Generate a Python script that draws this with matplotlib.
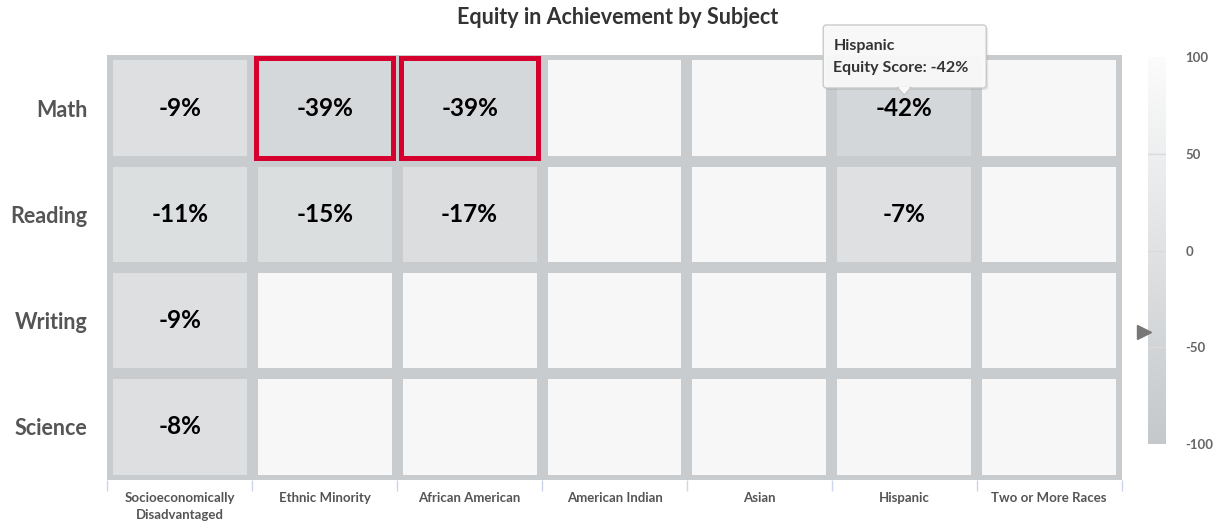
import numpy as np
import matplotlib.pyplot as plt
from matplotlib.patches import Rectangle, Polygon, FancyBboxPatch
from matplotlib.colors import LinearSegmentedColormap, Normalize
from matplotlib.cm import ScalarMappable

plt.rcParams['font.family'] = ['Lato', 'DejaVu Sans']
plt.rcParams['axes.unicode_minus'] = False

groups = ["Socioeconomically\nDisadvantaged", "Ethnic Minority", "African American",
          "American Indian", "Asian", "Hispanic", "Two or More Races"]
subjects = ["Math", "Reading", "Writing", "Science"]
# equity score in %, None = no data
math = [-9, -39, -39, None, None, -42, None]
reading = [-11, -15, -17, None, None, -7, None]
writing = [-9, None, None, None, None, None, None]
science = [-8, None, None, None, None, None, None]
scores = [math, reading, writing, science]

highlighted = [(0, 1), (0, 2)]   # (row, col) outlined in red
hover = (0, 5)                   # cell with the tooltip

cmap = LinearSegmentedColormap.from_list("eq", ["#c4c8cb", "#fbfbfb"])
norm = Normalize(-100, 100)
empty_color = "#f7f7f7"
gap_color = "#c8ccce"

fig = plt.figure(figsize=(12.19, 5.22), dpi=100)
ax = fig.add_axes([107 / 1219, 42 / 522, 1015 / 1219, 425 / 522])
ax.set_facecolor(gap_color)
ax.set_xlim(-0.503, 6.503)
ax.set_ylim(3.5, -0.5)

hw, hh = 0.462, 0.45
for r, row in enumerate(scores):
    for c, v in enumerate(row):
        fc = empty_color if v is None else cmap(norm(v))
        ax.add_patch(Rectangle((c - hw, r - hh), 2 * hw, 2 * hh, facecolor=fc,
                               edgecolor="none"))
        if v is not None:
            ax.text(c, r, f"{v}%", ha="center", va="center", fontsize=17.5,
                    fontweight="bold", color="black")

for r, c in highlighted:
    s = 0.472
    ax.add_patch(Rectangle((c - s, r - s), 2 * s, 2 * s, facecolor="none",
                           edgecolor="#d5002e", linewidth=3.6, zorder=5))

for sp in ax.spines.values():
    sp.set_visible(False)

ax.set_xticks(range(len(groups)))
ax.set_xticklabels(groups, fontsize=9.5, fontweight="bold", color="#555555",
                   linespacing=1.45, va="top")
ax.set_xticks(np.arange(-0.5, len(groups), 1), minor=True)
ax.tick_params(axis="x", which="major", length=0, pad=9)
ax.tick_params(axis="x", which="minor", length=8, color="#ccd6eb", width=1)
ax.set_yticks(range(len(subjects)))
ax.set_yticklabels(subjects, fontsize=15.5, fontweight="bold", color="#555555")
ax.tick_params(axis="y", length=0, pad=14)

fig.text(618 / 1219, 1 - 17 / 522, "Equity in Achievement by Subject",
         ha="center", va="center", fontsize=15.5, fontweight="bold", color="#333333")

# colour axis
cax = fig.add_axes([1148 / 1219, 78 / 522, 18 / 1219, 387 / 522])
cb = fig.colorbar(ScalarMappable(norm=norm, cmap=cmap), cax=cax)
cb.outline.set_visible(False)
cb.set_ticks([-100, -50, 0, 50, 100])
cax.tick_params(length=0, pad=14, labelsize=9.5, labelcolor="#666666")
for lab in cax.get_yticklabels():
    lab.set_fontweight("bold")
for t in [-50, 0, 50]:
    cax.axhline(t, color="#d8dadc", lw=1)
hv = scores[hover[0]][hover[1]]
cax.plot([-0.25], [hv], marker=">", markersize=10, color="#777777",
         clip_on=False, transform=cax.get_yaxis_transform())

# tooltip (pixel offsets from the hovered cell's top edge)
fig.canvas.draw()
cx, cy = ax.transData.transform((hover[1], hover[0] - 0.5))
bw, bh = 163, 63
px, py = cx - 81, cy - 33
shadow = FancyBboxPatch((px + 2, py - 2), bw, bh, boxstyle="round,pad=0,rounding_size=3",
                        transform=None, facecolor="#000000", alpha=0.08,
                        edgecolor="none", zorder=9)
box = FancyBboxPatch((px, py), bw, bh, boxstyle="round,pad=0,rounding_size=3",
                     transform=None, facecolor="#f9f9f9", alpha=0.96,
                     edgecolor="#c8c8c8", linewidth=1, zorder=10)
fig.patches.extend([shadow, box])
fig.patches.append(Polygon([(cx - 7, py + 0.5), (cx + 7, py + 0.5), (cx, py - 7)],
                           closed=True, transform=None, facecolor="#f9f9f9",
                           edgecolor="#c8c8c8", linewidth=1, zorder=10))
fig.patches.append(Polygon([(cx - 6, py + 1.5), (cx + 6, py + 1.5), (cx, py - 5.5)],
                           closed=True, transform=None, facecolor="#f9f9f9",
                           edgecolor="none", zorder=11))
fig.text((px + 10) / 1219, (py + 42) / 522, groups[hover[1]], fontsize=11.5,
         fontweight="bold", color="#333333", va="center", zorder=12)
fig.text((px + 10) / 1219, (py + 20) / 522, f"Equity Score: {hv}%", fontsize=11.5,
         fontweight="bold", color="#333333", va="center", zorder=12)

fig.savefig("out.png", dpi=100)
